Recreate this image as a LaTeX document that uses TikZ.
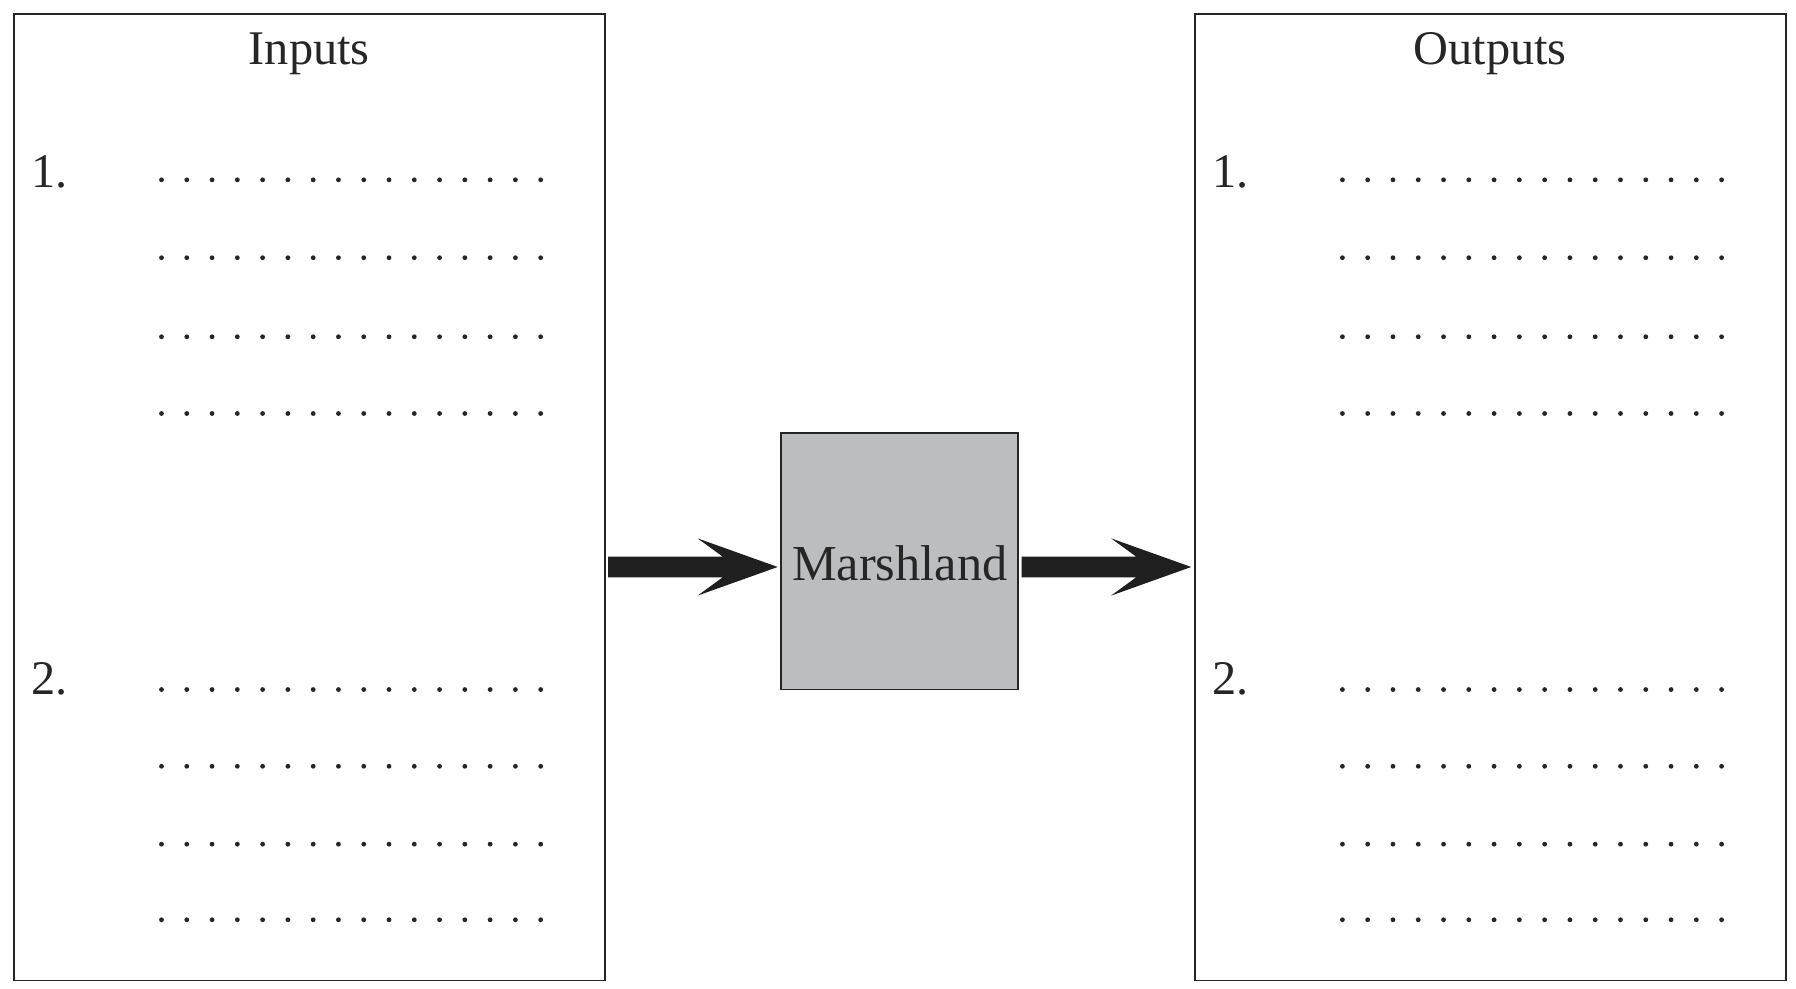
\documentclass[tikz,border=0pt]{standalone}
\usepackage{fontspec}
\setmainfont{Liberation Serif}
\begin{document}
\begin{tikzpicture}[x=0.01cm,y=-0.01cm,
  panel/.style={draw=black!85,line width=0.45pt},
  lbl/.style={font=\fontsize{12}{14}\selectfont,text=black!85},
  fatarrow/.style={fill=black!88}]
\useasboundingbox (0,0) rectangle (1568,863);
\fill[white] (0,0) rectangle (1568,863);
\draw[panel] (12,12) rectangle (528,856);
\draw[panel] (1043,12) rectangle (1559,856);
\node[panel,fill={rgb,255:red,188;green,189;blue,191},minimum width=207*0.01cm,minimum height=224*0.01cm,inner sep=0pt] (m) at (785.5,490) {};
\node[lbl,font=\fontsize{12.5}{15}\selectfont] (mt) at (785.5,492) {Marshland};
\node[lbl] (in) at (270,47) {Inputs};
\node[lbl] (out) at (1301,47) {Outputs};
\foreach \bx in {0,1031}{
  \node[lbl] at (\bx+43,150) {1.};
  \node[lbl] at (\bx+43,593) {2.};
  \foreach \yy in {157,225,294,361,602,669,737,803}
    \foreach \i in {0,...,15}
      \fill[black!85] (\bx+141+\i*22.07,\yy) circle (2.1);
}
\coordinate (a1) at (531,495);
\coordinate (b1) at (892,495);
\foreach \c in {a1,b1}{
  \fill[fatarrow] ([shift={(0,-9)}]\c) -- ++(100,0) -- ++(-22,-16) -- ++(70,25) -- ++(-70,25) -- ++(22,-16) -- ++(-100,0) -- cycle;
}
\end{tikzpicture}
\end{document}
